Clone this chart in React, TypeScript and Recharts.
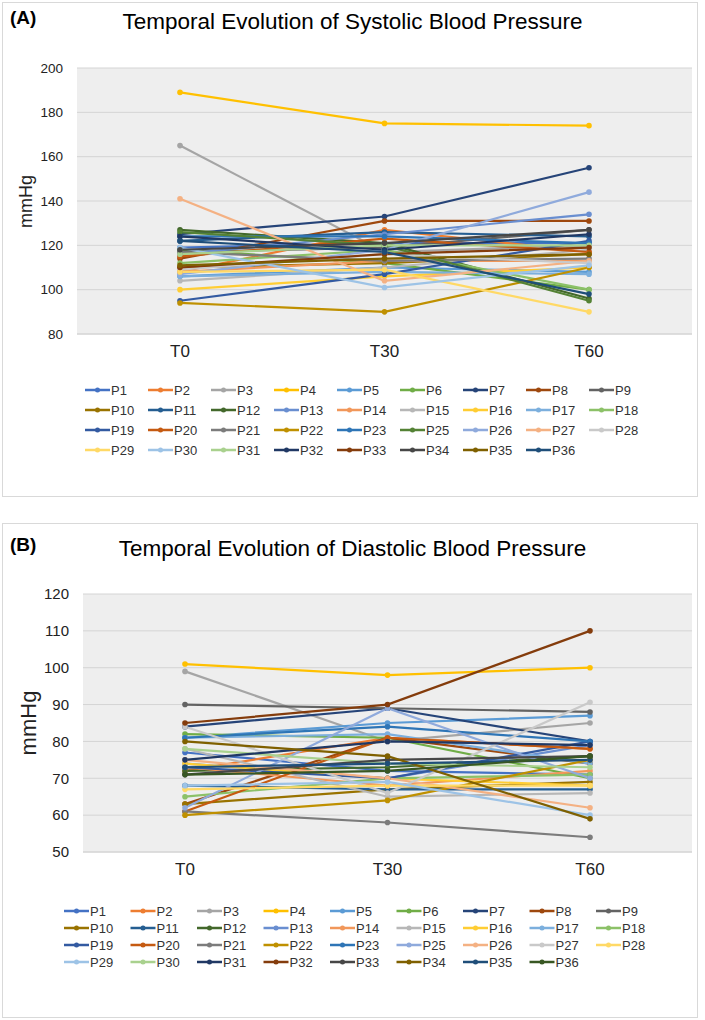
import React from 'react';
import { LineChart, Line, XAxis, YAxis, CartesianGrid } from 'recharts';

const timePoints = ['T0', 'T30', 'T60'];

const patientNames = [
  'P1', 'P2', 'P3', 'P4', 'P5', 'P6', 'P7', 'P8', 'P9',
  'P10', 'P11', 'P12', 'P13', 'P14', 'P15', 'P16', 'P17', 'P18',
  'P19', 'P20', 'P21', 'P22', 'P23', 'P25', 'P26', 'P27', 'P28',
  'P29', 'P30', 'P31', 'P32', 'P33', 'P34', 'P35', 'P36',
];

const excelPalette = [
  '#4472C4', '#ED7D31', '#A5A5A5', '#FFC000', '#5B9BD5', '#70AD47',
  '#264478', '#9E480E', '#636363', '#997300', '#255E91', '#43682B',
  '#698ED0', '#F1975A', '#B7B7B7', '#FFCD33', '#7CAFDD', '#8CC168',
  '#335AA1', '#C55A11', '#7C7C7C', '#BF9000', '#2E75B6', '#548235',
  '#8FAADC', '#F4B183', '#C9C9C9', '#FFD966', '#9DC3E6', '#A9D18E',
  '#203864', '#843C0C', '#474747', '#7F6000', '#1F4E79', '#385723',
];

// systolic colours follow series order; diastolic colours skip the 24th slot
const sysColorIdx = patientNames.map((_, i) => i);
const diaColorIdx = patientNames.map((_, i) => (i < 23 ? i : i + 1));

// Systolic (mmHg)
const sysT0 = [
  119, 108, 165, 189, 106, 118, 125, 114, 117,
  110, 122, 127, 116, 108, 104, 100, 106, 112,
  95, 115, 117, 94, 124, 126, 107, 141, 109,
  108, 119, 116, 124, 110, 118, 111, 122,
];
const sysT30 = [
  121, 127, 117, 175, 110, 112, 133, 131, 119,
  112, 126, 121, 125, 113, 110, 106, 108, 118,
  107, 123, 113, 90, 124, 120, 118, 104, 116,
  109, 101, 120, 118, 116, 121, 114, 117,
];
const sysT60 = [
  121, 117, 120, 174, 108, 100, 155, 131, 127,
  116, 124, 96, 134, 113, 118, 110, 107, 100,
  122, 117, 114, 110, 121, 95, 144, 113, 112,
  90, 111, 120, 125, 119, 127, 116, 98,
];

// Diastolic (mmHg)
const diaT0 = [
  77, 72, 99, 101, 81, 82, 84, 63, 90,
  63, 68, 72, 74, 73, 78, 74, 81, 65,
  73, 61, 61, 60, 81, 62, 75, 84, 67,
  68, 78, 75, 85, 71, 80, 73, 71,
];
const diaT30 = [
  72, 81, 80, 98, 85, 81, 89, 81, 89,
  67, 67, 73, 70, 68, 65, 70, 82, 70,
  70, 81, 58, 64, 84, 89, 70, 66, 68,
  69, 74, 80, 90, 75, 76, 74, 72,
];
const diaT60 = [
  71, 78, 85, 100, 87, 70, 80, 74, 88,
  69, 67, 76, 79, 72, 66, 68, 74, 71,
  80, 78, 54, 75, 80, 70, 62, 90.6, 68,
  60, 73, 79, 110, 76, 59, 75, 76,
];

const sysTicks = [80, 100, 120, 140, 160, 180, 200];
const diaTicks = [50, 60, 70, 80, 90, 100, 110, 120];

function buildRows(cols: number[][]) {
  return timePoints.map((t, k) => {
    const row: Record<string, any> = { time: t };
    patientNames.forEach((n, i) => {
      row[n] = cols[k][i];
    });
    return row;
  });
}

const sysRows = buildRows([sysT0, sysT30, sysT60]);
const diaRows = buildRows([diaT0, diaT30, diaT60]);

const FONT = '"Liberation Sans", Arial, sans-serif';

function Legend({ top, x0, dx, dy, colorIdx, fontSize }: any) {
  return (
    <svg
      width={705}
      height={90}
      style={{ position: 'absolute', left: 0, top: top - 10 }}
    >
      {patientNames.map((n, i) => {
        const col = i % 9;
        const row = Math.floor(i / 9);
        const x = x0 + col * dx;
        const y = 10 + row * dy;
        const c = excelPalette[colorIdx[i]];
        return (
          <g key={n}>
            <line x1={x} y1={y} x2={x + 25} y2={y} stroke={c} strokeWidth={2.5} />
            <circle cx={x + 12.5} cy={y} r={2.5} fill={c} />
            <text
              x={x + 26}
              y={y}
              dy="0.36em"
              fontSize={fontSize}
              fontFamily={FONT}
              fill="#333"
            >
              {n}
            </text>
          </g>
        );
      })}
    </svg>
  );
}

function Panel({
  top, height, tag, title, titleY, tagY, rows, colorIdx, ticks, domain,
  chartTop, plotTop, plotBottom, plotLeft, tickFont, yLabelFont, yLabelX,
  legendTop, legendX0, legendDx, legendDy,
}: any) {
  const chartH = plotBottom - chartTop + 40;
  const plotW = 705 - 13 - plotLeft;
  const pad = Math.round(plotW / 6);
  return (
    <>
      <div
        style={{
          position: 'absolute', left: 2, top, width: 696, height,
          border: '1px solid #D9D9D9', boxSizing: 'border-box',
        }}
      />
      <div
        style={{
          position: 'absolute', left: 10, top: tagY, fontSize: 19,
          fontWeight: 'bold', fontFamily: FONT, color: '#000', lineHeight: '20px',
        }}
      >
        {tag}
      </div>
      <div
        style={{
          position: 'absolute', left: 0, width: 705, top: titleY, textAlign: 'center',
          fontSize: 22.5, fontFamily: FONT, color: '#000', lineHeight: '26px',
        }}
      >
        {title}
      </div>
      <div style={{ position: 'absolute', left: 0, top: chartTop }}>
        <LineChart
          width={705}
          height={chartH}
          data={rows}
          margin={{ top: plotTop - chartTop, right: 13, left: 0, bottom: chartH - (plotBottom - chartTop) - 34 }}
        >
          <CartesianGrid
            horizontal
            vertical={false}
            stroke="#D4D4D4"
            fill="#EEEEEE"
          />
          <XAxis
            dataKey="time"
            height={34}
            padding={{ left: pad, right: pad }}
            axisLine={{ stroke: '#D4D4D4' }}
            tickLine={false}
            tickSize={0}
            tickMargin={11}
            tick={{ fontSize: 17, fontFamily: FONT, fill: '#222' }}
          />
          <YAxis
            width={plotLeft}
            domain={domain}
            ticks={ticks}
            interval={0}
            axisLine={false}
            tickLine={false}
            tickSize={0}
            tickMargin={14}
            tick={{ fontSize: tickFont, fontFamily: FONT, fill: '#222' }}
          />
          {patientNames.map((n, i) => {
            const c = excelPalette[colorIdx[i]];
            return (
              <Line
                key={n}
                dataKey={n}
                stroke={c}
                strokeWidth={2.2}
                dot={{ r: 2.8, fill: c, stroke: c, strokeWidth: 0 }}
                activeDot={false}
                isAnimationActive={false}
              />
            );
          })}
        </LineChart>
      </div>
      <div
        style={{
          position: 'absolute', left: yLabelX - 20, top: (plotTop + plotBottom) / 2 - 20,
          width: 40, height: 40, display: 'flex', alignItems: 'center', justifyContent: 'center',
        }}
      >
        <div
          style={{
            transform: 'rotate(-90deg)', fontSize: yLabelFont, fontFamily: FONT,
            color: '#222', whiteSpace: 'nowrap',
          }}
        >
          mmHg
        </div>
      </div>
      <Legend top={legendTop} x0={legendX0} dx={legendDx} dy={legendDy} colorIdx={colorIdx} fontSize={13} />
    </>
  );
}

export default function App() {
  return (
    <div
      style={{
        position: 'absolute', left: 0, top: 0, width: 705, height: 1020,
        background: '#fff', overflow: 'hidden', fontFamily: FONT,
      }}
    >
      <Panel
        top={2}
        height={495}
        tag="(A)"
        tagY={8}
        title="Temporal Evolution of Systolic Blood Pressure"
        titleY={9}
        rows={sysRows}
        colorIdx={sysColorIdx}
        ticks={sysTicks}
        domain={[80, 200]}
        chartTop={50}
        plotTop={68}
        plotBottom={334}
        plotLeft={77}
        tickFont={13.5}
        yLabelFont={18}
        yLabelX={26}
        legendTop={390}
        legendX0={85}
        legendDx={63}
        legendDy={20}
      />
      <Panel
        top={523}
        height={495}
        tag="(B)"
        tagY={535}
        title="Temporal Evolution of Diastolic Blood Pressure"
        titleY={536}
        rows={diaRows}
        colorIdx={diaColorIdx}
        ticks={diaTicks}
        domain={[50, 120]}
        chartTop={580}
        plotTop={594}
        plotBottom={852}
        plotLeft={83}
        tickFont={15}
        yLabelFont={22}
        yLabelX={29}
        legendTop={911}
        legendX0={64}
        legendDx={66.5}
        legendDy={17}
      />
    </div>
  );
}
